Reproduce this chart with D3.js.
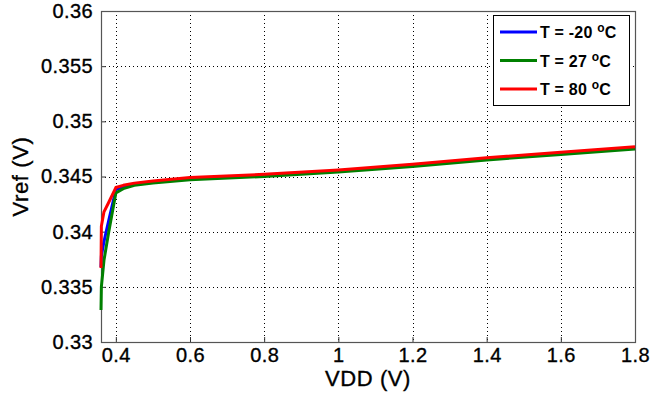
<!DOCTYPE html>
<html lang="en">
<head>
    <meta charset="utf-8" />
    <script src="https://d3js.org/d3.v7.min.js"></script>
    <title>Vref vs VDD</title>
    <style>
        body { margin: 0; background: #fff; }
        * { font-family: 'Liberation Sans', Arial, sans-serif; }
    </style>
</head>
<body>
    <div id="chart"></div>
    <script>
        // VDD sweep (V)
        var vdd = [0.36, 0.361, 0.368, 0.38, 0.40, 0.42, 0.45, 0.5, 0.6, 0.8, 1.0, 1.2, 1.4, 1.6, 1.8];
        // Vref (V) per temperature
        var vrefM20 = [0.3368, 0.3378, 0.3391, 0.3409, 0.3438, 0.3441, 0.3443, 0.3445, 0.3448, 0.3451, 0.3455, 0.3460, 0.3466, 0.3471, 0.3476];
        var vref27 = [0.3329, 0.3350, 0.3374, 0.3398, 0.3435, 0.3439, 0.3442, 0.3444, 0.3447, 0.3450, 0.3454, 0.3459, 0.3465, 0.3470, 0.3475];
        var vref80 = [0.3367, 0.3405, 0.3418, 0.3426, 0.3440, 0.3442, 0.3444, 0.3446, 0.3449, 0.3452, 0.3456, 0.3461, 0.3467, 0.3472, 0.3477];
        var seriesNames = ["T = -20 ", "T = 27 ", "T = 80 "];
        var seriesColors = ["#0000ff", "#008000", "#ff0000"];
        var xTicks = [0.4, 0.6, 0.8, 1, 1.2, 1.4, 1.6, 1.8];
        var yTicks = [0.33, 0.335, 0.34, 0.345, 0.35, 0.355, 0.36];

        var width = 652, height = 398;
        var pL = 101, pR = 635, pT = 11, pB = 342;

        var svg = d3.select("#chart")
            .append("svg")
            .attr("width", width)
            .attr("height", height);

        var x = d3.scaleLinear().domain([0.36, 1.8]).range([pL, pR]);
        var y = d3.scaleLinear().domain([0.33, 0.36]).range([pB, pT]);

        // dotted grid
        var grid = svg.append("g").attr("stroke", "#000").attr("stroke-width", 1).attr("stroke-dasharray", "1,3");
        grid.selectAll("line.gx").data(xTicks.slice(0, -1)).enter().append("line")
            .attr("x1", function(d) { return Math.round(x(d)) + 0.5; })
            .attr("x2", function(d) { return Math.round(x(d)) + 0.5; })
            .attr("y1", pT).attr("y2", pB);
        grid.selectAll("line.gy").data(yTicks.slice(1, -1)).enter().append("line")
            .attr("y1", function(d) { return Math.round(y(d)) + 0.5; })
            .attr("y2", function(d) { return Math.round(y(d)) + 0.5; })
            .attr("x1", pL).attr("x2", pR);

        // axes
        var xAxis = d3.axisBottom(x).tickValues(xTicks).tickSize(-5).tickPadding(6).tickFormat(d3.format("~g"));
        var yAxis = d3.axisLeft(y).tickValues(yTicks).tickSize(-5).tickPadding(8).tickFormat(d3.format("~g"));

        var gx = svg.append("g").attr("transform", "translate(0," + pB + ")").call(xAxis);
        var gy = svg.append("g").attr("transform", "translate(" + pL + ",0)").call(yAxis);
        [gx, gy].forEach(function(g) {
            g.select(".domain").remove();
            g.selectAll(".tick line").attr("stroke", "#333");
            g.selectAll("text").attr("fill", "#000")
                .attr("stroke", "#000").attr("stroke-width", 0.35)
                .style("font-size", "20px")
                .style("letter-spacing", "0.4px")
                .style("font-family", "'Liberation Sans', Arial, sans-serif");
        });

        svg.append("rect")
            .attr("x", pL + 0.5).attr("y", pT + 0.5)
            .attr("width", pR - pL).attr("height", pB - pT)
            .attr("fill", "none").attr("stroke", "#555").attr("stroke-width", 1.2);

        // curves
        var line = d3.line()
            .x(function(d) { return x(d[0]); })
            .y(function(d) { return y(d[1]); });

        var allSeries = [vrefM20, vref27, vref80];
        allSeries.forEach(function(vals, i) {
            svg.append("path")
                .datum(vdd.map(function(v, k) { return [v, vals[k]]; }))
                .attr("d", line)
                .attr("fill", "none")
                .attr("stroke", seriesColors[i])
                .attr("stroke-width", 3)
                .attr("stroke-linejoin", "round");
        });

        // labels
        svg.append("text")
            .attr("x", (pL + pR) / 2).attr("y", 386)
            .attr("text-anchor", "middle")
            .attr("stroke", "#000").attr("stroke-width", 0.35)
            .style("font-size", "22px")
            .style("letter-spacing", "0.6px")
            .text("VDD (V)");

        svg.append("text")
            .attr("transform", "translate(28," + ((pT + pB) / 2) + ") rotate(-90)")
            .attr("text-anchor", "middle")
            .attr("stroke", "#000").attr("stroke-width", 0.35)
            .style("font-size", "22px")
            .style("letter-spacing", "0.6px")
            .text("Vref (V)");

        // legend
        var lg = svg.append("g");
        lg.append("rect")
            .attr("x", 493.5).attr("y", 15.5).attr("width", 136).attr("height", 90)
            .attr("fill", "#fff").attr("stroke", "#000").attr("stroke-width", 1);
        seriesNames.forEach(function(name, i) {
            var ly = 32 + i * 28.5;
            lg.append("line")
                .attr("x1", 500).attr("x2", 537).attr("y1", ly).attr("y2", ly)
                .attr("stroke", seriesColors[i]).attr("stroke-width", 3);
            var t = lg.append("text")
                .attr("x", 540).attr("y", ly + 6)
                .style("font-size", "16px").style("font-weight", "bold")
                .style("letter-spacing", "0.2px");
            t.append("tspan").text(name);
            t.append("tspan").attr("dy", -6).style("font-size", "12px").text("o");
            t.append("tspan").attr("dy", 6).text("C");
        });
    </script>
</body>
</html>
